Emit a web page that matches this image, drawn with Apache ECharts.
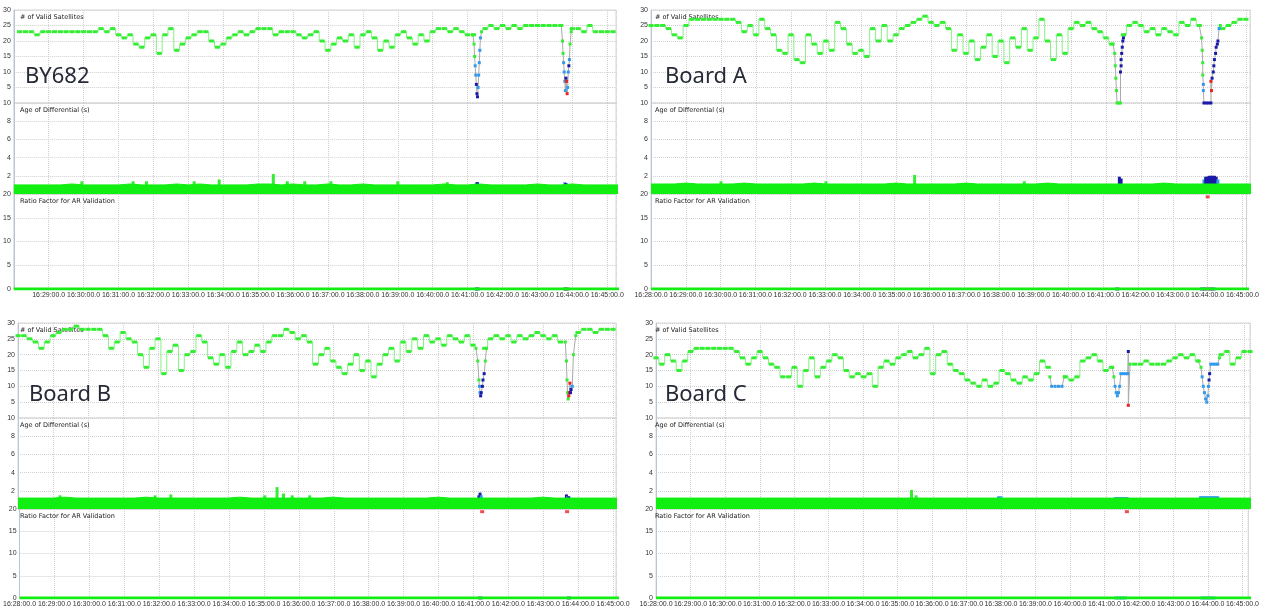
<!DOCTYPE html>
<html>
<head>
<meta charset="utf-8">
<script src="https://cdn.jsdelivr.net/npm/echarts@6/dist/echarts.min.js"></script>
<style>
  html, body { margin: 0; background: #fff; }
  #main { width: 1262px; height: 608px; }
</style>
</head>
<body>
<div id="main"></div>
<script>
// x values are seconds after 16:28:00
const tickLabels = ['16:28:00.0','16:29:00.0','16:30:00.0','16:31:00.0','16:32:00.0','16:33:00.0',
  '16:34:00.0','16:35:00.0','16:36:00.0','16:37:00.0','16:38:00.0','16:39:00.0','16:40:00.0',
  '16:41:00.0','16:42:00.0','16:43:00.0','16:44:00.0','16:45:00.0']

// # of valid satellites, one value every 10 s (fixed solution)
const by682Sats = [23,23,23,22,23,23,23,23,23,23,23,23,23,23,24,23,24,22,21,22,
  19,18,21,22,16,22,24,17,19,21,22,23,23,20,18,19,21,22,23,22,
  23,24,24,24,22,23,23,23,22,21,22,23,20,17,19,21,20,22,18,22,
  23,21,17,20,18,22,23,21,19,22,20,23,24,24,23,24,23,22,22,null,
  24,25,24,25,24,25,24,25,25,25,25,25,25,25,null,24,24,23,25,23,
  23,23,23]
const boardASats = [25,25,25,24,22,21,25,27,27,27,
  27,27,27,27,27,26,23,25,22,27,
  24,22,17,16,22,14,13,22,19,16,
  20,17,26,24,19,16,17,15,24,20,
  25,20,22,24,25,26,27,28,26,25,
  26,24,17,22,16,20,14,18,22,15,
  20,13,21,18,24,17,21,27,20,14,
  22,16,24,26,25,26,24,23,21,19,
  null,22,25,26,25,23,24,22,24,23,
  22,26,25,27,25,null,null,null,24,25,
  26,27,27]
const boardBSats = [26,26,25,24,22,24,26,27,28,28,
  29,28,28,28,28,26,22,24,27,25,
  24,20,16,22,25,14,21,23,15,20,
  21,26,24,19,17,20,16,21,24,20,
  21,23,21,24,26,26,28,27,25,26,
  24,17,20,22,18,16,14,17,20,15,
  18,13,17,20,22,18,24,21,25,22,
  26,24,25,23,26,25,24,26,23,null,
  22,25,26,25,26,24,26,25,26,27,
  26,25,26,24,null,null,27,28,28,27,
  28,28,28]
const boardCSats = [19,17,20,18,15,18,21,22,22,22,
  22,22,22,22,21,19,17,19,21,19,
  17,16,13,13,16,10,15,19,13,16,
  18,20,19,15,13,14,13,14,10,16,
  18,17,19,20,21,19,20,22,14,20,
  21,17,15,14,12,11,10,12,10,11,
  15,14,12,11,13,12,14,18,16,null,
  null,13,12,13,18,19,20,18,15,16,
  null,null,null,17,17,18,17,17,17,18,
  19,20,19,20,18,null,null,null,20,21,
  17,19,21,21]

// drop-outs: [seconds, satellites, fix] 1 fixed, 2 float, 3 dgps, 4 single
const by682Dips = [
  [[789,22,1],[791,19,1],[792,15,1],[793,12,2],[794,9,2],[795,6,3],[796,3,3],[797,2,3],[798,5,2],[799,9,2],[800,13,2],[801,17,2],[802,21,2],[804,23,1]],
  [[941,25,1],[943,20,1],[944,16,1],[945,13,2],[946,10,2],[947,7,2],[948,4,2],[949,8,3],[950,7,4],[951,3,4],[952,5,2],[953,10,2],[954,12,3],[955,14,2],[956,19,1],[958,23,1]]
]
const boardADips = [
  [[792,19,1],[795,16,1],[796,12,1],[797,8,1],[798,4,1],[799,0,1],[802,0,1],[805,0,1],[805,10,3],[806,12,3],[806,14,3],[807,16,3],[808,18,3],[809,20,3],[810,21,3],[812,22,1]],
  [[940,25,1],[944,21,1],[945,17,1],[946,13,1],[946,9,1],[947,6,2],[947,4,2],[948,0,3],[952,0,3],[956,0,3],[960,0,3],[960,7,4],[961,4,4],[962,8,3],[964,10,3],[965,12,3],[966,14,3],[968,16,3],[969,18,3],[971,19,3],[972,20,3],[974,24,2],[976,25,1]]
]
const boardBDips = [
  [[785,22,1],[788,18,1],[790,12,1],[791,10,2],[792,8,2],[793,7,3],[794,8,3],[796,10,3],[797,12,3],[799,14,3],[801,18,1],[803,22,1]],
  [[938,24,1],[940,18,1],[941,12,1],[942,8,1],[943,6,1],[944,7,4],[945,8,4],[946,11,4],[947,8,3],[948,9,3],[950,10,2],[952,20,1],[956,26,1]]
]
const boardCDips = [
  [[683,13,1],[686,10,2],[692,10,2],[698,10,2],[704,10,2],[708,13,1]],
  [[791,16,1],[794,13,1],[796,10,2],[798,8,2],[800,7,2],[802,8,2],[804,10,2],[806,14,2],[810,14,2],[814,14,2],[818,14,2],[819,21,3],[819,4,4],[822,17,1]],
  [[940,18,1],[945,16,1],[947,13,2],[949,10,2],[951,8,2],[953,6,2],[955,5,2],[957,7,2],[958,10,2],[959,12,3],[960,14,3],[962,17,2],[966,17,2],[970,17,2],[974,17,2],[977,19,1]]
]

// age of differential (s), one value every 20 s
const by682Age = [1.0,1.0,1.0,1.0,1.0,1.1,1.0,1.0,1.0,1.0,1.1,1.0,1.0,1.0,1.1,1.0,1.1,1.0,1.0,1.0,
  1.0,1.1,1.1,1.0,1.1,1.0,1.0,1.1,1.0,1.0,1.1,1.0,1.0,1.0,1.0,1.0,1.0,1.1,1.0,1.0,
  1.1,1.0,1.0,1.0,1.0,1.1,1.0,1.0,1.1,1.0,1.0,1.0,1.0]
const boardAAge = [1.1,1.1,1.1,1.2,1.1,1.1,1.1,1.1,1.2,1.1,1.1,1.1,1.1,1.1,1.2,1.1,1.1,1.1,1.1,1.1,
  1.1,1.2,1.1,1.1,1.1,1.1,1.1,1.2,1.1,1.1,1.1,1.1,1.1,1.1,1.2,1.1,1.1,1.1,1.1,1.1,
  1.1,1.1,1.1,1.1,1.2,1.1,1.1,1.1,1.1,1.1,1.1,1.1,1.1]
const boardBAge = [1.2,1.2,1.2,1.2,1.3,1.2,1.2,1.2,1.2,1.2,1.2,1.3,1.2,1.2,1.2,1.2,1.2,1.2,1.2,1.3,
  1.2,1.2,1.2,1.2,1.2,1.2,1.2,1.3,1.2,1.2,1.2,1.2,1.2,1.2,1.2,1.2,1.3,1.2,1.2,1.2,
  1.2,1.2,1.2,1.2,1.2,1.3,1.2,1.2,1.2,1.2,1.2,1.2,1.2]
const boardCAge = [1.2,1.2,1.2,1.2,1.2,1.2,1.2,1.2,1.2,1.2,1.2,1.2,1.2,1.2,1.2,1.2,1.2,1.2,1.2,1.2,
  1.2,1.2,1.2,1.2,1.2,1.2,1.2,1.2,1.2,1.2,1.2,1.2,1.2,1.2,1.2,1.2,1.2,1.2,1.2,1.2,
  1.2,1.2,1.2,1.2,1.2,1.2,1.2,1.2,1.2,1.2,1.2,1.2,1.2]

// single age epochs worth marking: [seconds, age, fix]
const by682AgeFix = [[117,1.4,1],[205,1.4,1],[228,1.4,1],[310,1.4,1],[353,1.6,1],[446,2.2,1],[470,1.4,1],
  [500,1.4,1],[545,1.4,1],[660,1.4,1],[745,1.3,1],[795,1.3,2],[797,1.3,3],[947,1.3,2],[949,1.2,3],[951,1.1,4]]
const boardAAgeFix = [[120,1.4,1],[300,1.4,1],[452,2.1,1],[640,1.4,1],[803,1.9,3],[806,1.7,3],[948,1.6,2],
  [951,1.9,3],[954,1.9,3],[957,2.0,3],[960,2.0,3],[963,2.0,3],[966,2.0,3],[969,1.9,3],[972,1.6,2]]
const boardBAgeFix = [[72,1.5,1],[235,1.5,1],[262,1.6,1],[423,1.5,1],[444,2.4,1],[455,1.7,1],[470,1.5,1],
  [500,1.5,1],[790,1.5,3],[792,1.8,3],[794,1.5,2],[940,1.6,3],[942,1.4,2],[944,1.4,3]]
const boardCAgeFix = [[443,2.1,1],[451,1.5,1],[594,1.4,2],[598,1.4,2],[796,1.3,2],[799,1.3,2],[802,1.3,2],
  [805,1.3,2],[808,1.3,2],[811,1.3,2],[814,1.3,2],[817,1.3,2],[944,1.4,2],[947,1.4,2],[950,1.4,2],
  [953,1.4,2],[956,1.4,2],[959,1.4,2],[962,1.4,2],[965,1.4,2],[968,1.4,2],[971,1.4,2],[974,1.4,2]]

// ratio factor for AR validation, one value per minute
const by682Ratio = [0,0,0,0,0,0,0,0,0,0,0,0,0,0,0,0,0,0,0]
const boardARatio = [0,0,0,0,0,0,0,0,0,0,0,0,0,0,0,0,0,0,0]
const boardBRatio = [0,0,0,0,0,0,0,0,0,0,0,0,0,0,0,0,0,0,0]
const boardCRatio = [0,0,0,0,0,0,0,0,0,0,0,0,0,0,0,0,0,0,0]
const by682RatioFix = [[795,0,2],[797,0,3],[948,0,3],[950,0,4],[952,0,2]]
const boardARatioFix = [[804,0,3],[950,0,3],[955,0,3],[960,0,4],[965,0,3],[970,0,3],[960,19.4,4]]
const boardBRatioFix = [[792,0,3],[944,0,3],[795,19.4,4],[941,19.4,4]]
const boardCRatioFix = [[800,0,2],[805,0,2],[810,0,2],[815,0,2],[819,19.4,4],[950,0,2],[955,0,2],[960,0,2],[965,0,2],[970,0,2]]

const fixColor = {1: '#33ee33', 2: '#3399ee', 3: '#1a1aa8', 4: '#ee2020'}
const ageGreen = '#11ee11'
const subTitles = ['# of Valid Satellites', 'Age of Differential (s)', 'Ratio Factor for AR Validation']

const panels = [
  {label: 'BY682', labelX: 25, labelY: 77, left: 12, width: 604, max: 1035, tops: [10, 103, 194], heights: [93, 91, 95],
    titleX: 20, firstLabel: false, sats: by682Sats, satStart: 10, dips: by682Dips, age: by682Age,
    ageFix: by682AgeFix, ratio: by682Ratio, ratioFix: by682RatioFix},
  {label: 'Board A', labelX: 665, labelY: 77, left: 651, width: 599, max: 1027, tops: [10, 103, 194], heights: [93, 91, 95],
    titleX: 655, firstLabel: true, sats: boardASats, satStart: 0, dips: boardADips, age: boardAAge,
    ageFix: boardAAgeFix, ratio: boardARatio, ratioFix: boardARatioFix},
  {label: 'Board B', labelX: 29, labelY: 395, left: 18, width: 598, max: 1025, tops: [323, 418, 509], heights: [95, 91, 94],
    titleX: 20, firstLabel: true, sats: boardBSats, satStart: 0, dips: boardBDips, age: boardBAge,
    ageFix: boardBAgeFix, ratio: boardBRatio, ratioFix: boardBRatioFix},
  {label: 'Board C', labelX: 665, labelY: 395, left: 656, width: 594, max: 1030, tops: [323, 418, 509], heights: [95, 91, 94],
    titleX: 655, firstLabel: true, sats: boardCSats, satStart: 0, dips: boardCDips, age: boardCAge,
    ageFix: boardCAgeFix, ratio: boardCRatio, ratioFix: boardCRatioFix}
]

const grid = [], xAxis = [], yAxis = [], series = [], graphic = []
const yMax = [30, 10, 20], yStep = [5, 2, 5]

function fixPoint (d) {
  return {value: [d[0], d[1]], itemStyle: {color: fixColor[d[2]]}}
}

panels.forEach((p, k) => {
  for (let j = 0; j < 3; j++) {
    const g = k * 3 + j
    grid.push({left: p.left, top: p.tops[j], width: p.width, height: p.heights[j],
      show: true, borderColor: '#d6d6d6', borderWidth: 1, backgroundColor: '#fff'})
    xAxis.push({
      gridIndex: g, type: 'value', min: 0, max: p.max, interval: 60,
      axisLine: {show: false}, axisTick: {show: false},
      splitLine: {show: true, lineStyle: {color: '#d0d0d0', type: 'dotted'}},
      axisLabel: j === 2 ? {
        show: true, fontSize: 7, fontFamily: 'Liberation Sans', color: '#333', margin: 3,
        showMinLabel: p.firstLabel, showMaxLabel: false, hideOverlap: false,
        formatter: v => tickLabels[v / 60] || ''
      } : {show: false}
    })
    yAxis.push({
      gridIndex: g, type: 'value', min: 0, max: yMax[j], interval: yStep[j],
      axisLine: {show: true, lineStyle: {color: '#b8c6d4'}}, axisTick: {show: false},
      splitLine: {show: true, lineStyle: {color: '#d0d0d0', type: 'dotted'}},
      axisLabel: {fontSize: 7, fontFamily: 'Liberation Sans', color: '#333', margin: 3, showMinLabel: j === 2}
    })
    graphic.push({type: 'text', x: p.titleX, y: p.tops[j] + 7, z: 1,
      style: {text: subTitles[j], fontSize: 6.5, fontFamily: 'DejaVu Sans', fill: '#222', verticalAlign: 'middle'}})
  }
  const gs = k * 3, ga = k * 3 + 1, gr = k * 3 + 2

  series.push({
    type: 'line', xAxisIndex: gs, yAxisIndex: gs, silent: true, animation: false,
    data: p.sats.map((v, i) => [p.satStart + 10 * i, v == null ? '-' : v]),
    step: 'middle', symbol: 'rect', symbolSize: [5, 3], showAllSymbol: true, connectNulls: false,
    itemStyle: {color: fixColor[1]}, lineStyle: {color: '#66ee66', width: 1, opacity: 0.8}
  })
  p.dips.forEach(dip => {
    series.push({
      type: 'line', xAxisIndex: gs, yAxisIndex: gs, silent: true, animation: false,
      data: dip.map(fixPoint), symbol: 'rect', symbolSize: [3, 3], showAllSymbol: true,
      lineStyle: {color: '#aaaaaa', width: 1}
    })
  })

  series.push({
    type: 'line', xAxisIndex: ga, yAxisIndex: ga, silent: true, animation: false,
    data: p.age.map((v, i) => [20 * i, v]), symbol: 'none',
    lineStyle: {color: ageGreen, width: 1}, areaStyle: {color: ageGreen, opacity: 1}
  })
  series.push({
    type: 'bar', xAxisIndex: ga, yAxisIndex: ga, silent: true, animation: false,
    data: p.ageFix.map(fixPoint), barWidth: 3
  })

  series.push({
    type: 'line', xAxisIndex: gr, yAxisIndex: gr, silent: true, animation: false,
    data: p.ratio.map((v, i) => [60 * i, v]), symbol: 'none',
    lineStyle: {color: ageGreen, width: 3}
  })
  series.push({
    type: 'scatter', xAxisIndex: gr, yAxisIndex: gr, silent: true, animation: false,
    data: p.ratioFix.map(fixPoint), symbol: 'rect', symbolSize: [4, 3]
  })

  graphic.push({type: 'text', x: p.labelX, y: p.labelY, z: 10,
    style: {text: p.label, fontSize: 22, fontFamily: 'Noto Sans', fill: '#252a36', verticalAlign: 'middle'}})
})

const chart = echarts.init(document.getElementById('main'), null, {renderer: 'canvas'})
chart.setOption({
  animation: false,
  backgroundColor: '#fff',
  grid: grid,
  xAxis: xAxis,
  yAxis: yAxis,
  series: series,
  graphic: graphic
})
window.addEventListener('resize', () => {
  chart.resize()
})
</script>
</body>
</html>
